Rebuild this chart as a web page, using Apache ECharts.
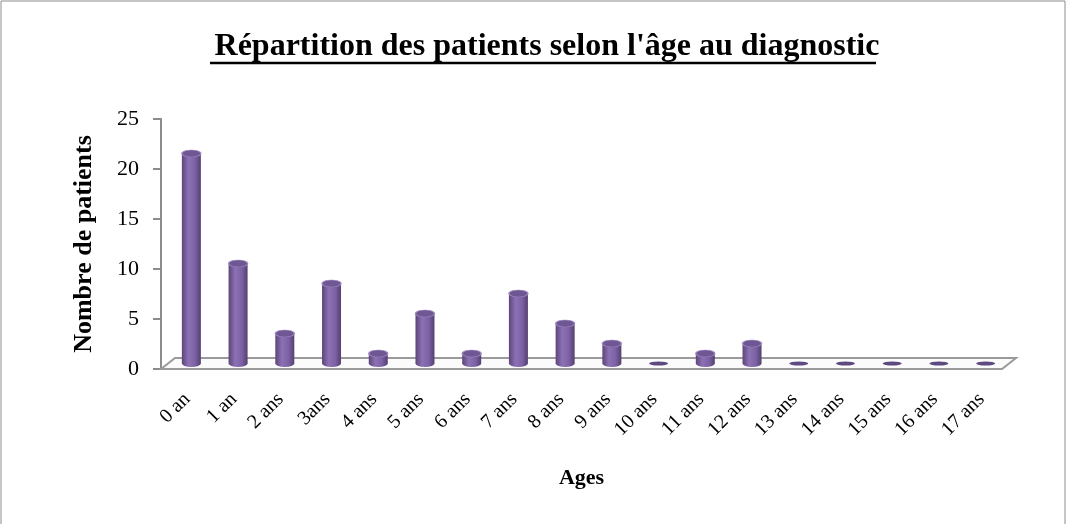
<!DOCTYPE html>
<html>
<head>
<meta charset="utf-8">
<script src="https://cdn.jsdelivr.net/npm/echarts@6/dist/echarts.min.js"></script>
<style>
html, body { margin: 0; padding: 0; background: #fff; }
#main { width: 1068px; height: 524px; }
</style>
</head>
<body>
<div id="main"></div>
<script>
var ages = ['0 an', '1 an', '2 ans', '3ans', '4 ans', '5 ans', '6 ans', '7 ans', '8 ans',
    '9 ans', '10 ans', '11 ans', '12 ans', '13 ans', '14 ans', '15 ans', '16 ans', '17 ans'];
var patients = [21, 10, 3, 8, 1, 5, 1, 7, 4, 2, 0, 1, 2, 0, 0, 0, 0, 0];

var chartDom = document.getElementById('main');
var myChart = echarts.init(chartDom);
var option;

// fake 3D depth of the floor
var DX = 14, DY = -11;
var FONT = 'Liberation Serif';

function bodyGrad() {
    return new echarts.graphic.LinearGradient(0, 0, 1, 0, [
        {offset: 0, color: '#5c4579'},
        {offset: 0.35, color: '#8c71b4'},
        {offset: 0.7, color: '#7c61a4'},
        {offset: 1, color: '#54406f'}
    ]);
}

function renderFloor(params, api) {
    var c = params.coordSys;
    var y0 = c.y + c.height;
    return {
        type: 'polygon',
        shape: {points: [[c.x, y0], [c.x + c.width, y0], [c.x + c.width + DX, y0 + DY], [c.x + DX, y0 + DY]]},
        style: {fill: '#fbfbfb', stroke: '#9a9a9a', lineWidth: 2}
    };
}

function renderBar(params, api) {
    var v = api.value(1);
    var front = api.coord([api.value(0), 0]);
    var topPt = api.coord([api.value(0), v]);
    var cx = front[0] + DX / 2;
    var base = front[1] + DY / 2;
    var top = topPt[1] + DY / 2;
    var hw = 9.5, ry = 3.5;
    if (v === 0) {
        return {
            type: 'circle', x: cx, y: base, scaleY: 2 / hw,
            shape: {cx: 0, cy: 0, r: hw},
            style: {fill: '#5e4a80'}
        };
    }
    return {
        type: 'group',
        children: [
            {type: 'circle', x: cx, y: base, scaleY: ry / hw, shape: {cx: 0, cy: 0, r: hw}, style: {fill: bodyGrad()}},
            {type: 'rect', shape: {x: cx - hw, y: top, width: hw * 2, height: base - top}, style: {fill: bodyGrad()}},
            {type: 'circle', x: cx, y: top, scaleY: ry / hw, shape: {cx: 0, cy: 0, r: hw},
                style: {fill: '#6f5793', stroke: '#9d88c0', lineWidth: 1.5, strokeNoScale: true}}
        ]
    };
}

option = {
    animation: false,
    graphic: [
        {type: 'rect', shape: {x: 1, y: 1, width: 1064, height: 540}, style: {fill: 'none', stroke: '#8c8c8c', lineWidth: 1}},
        {type: 'line', shape: {x1: 210, y1: 63, x2: 876, y2: 63}, style: {stroke: '#000', lineWidth: 2.5}}
    ],
    title: {
        text: "Répartition des patients selon l'âge au diagnostic",
        left: 542,
        textAlign: 'center',
        top: 26,
        textStyle: {fontFamily: FONT, fontSize: 32, fontWeight: 'bold', color: '#000'}
    },
    grid: {left: 161, right: 66, top: 119, bottom: 155},
    xAxis: {
        type: 'category',
        data: ages,
        name: 'Ages',
        nameLocation: 'middle',
        nameGap: 98,
        nameTextStyle: {fontFamily: FONT, fontSize: 22, fontWeight: 'bold', color: '#000'},
        axisLine: {show: false},
        axisTick: {show: false},
        axisLabel: {rotate: 45, margin: 30, padding: [0, -4, 0, 0], fontFamily: FONT, fontSize: 20, color: '#000', interval: 0}
    },
    yAxis: {
        type: 'value',
        min: 0,
        max: 25,
        interval: 5,
        name: 'Nombre de patients',
        nameLocation: 'middle',
        nameGap: 64,
        nameTextStyle: {fontFamily: FONT, fontSize: 26, fontWeight: 'bold', color: '#000'},
        axisLine: {show: true, lineStyle: {color: '#8c8c8c', width: 2}},
        axisTick: {show: true, length: 8, lineStyle: {color: '#8c8c8c', width: 2}},
        axisLabel: {margin: 22, fontFamily: FONT, fontSize: 22, color: '#000'},
        splitLine: {show: false}
    },
    series: [
        {
            type: 'custom',
            renderItem: renderFloor,
            data: [[0, 0]],
            z: 1,
            silent: true
        },
        {
            type: 'custom',
            renderItem: renderBar,
            data: ages.map(function (a, i) { return [i, patients[i]]; }),
            encode: {x: 0, y: 1},
            z: 3
        }
    ]
};

option && myChart.setOption(option);
</script>
</body>
</html>
